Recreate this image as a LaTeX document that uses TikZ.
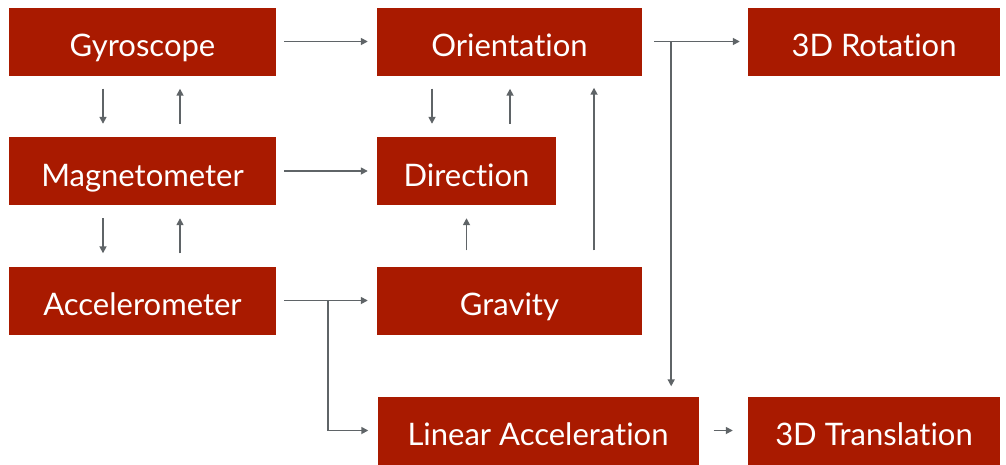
\documentclass[tikz,border=0pt]{standalone}
\usepackage{fontspec}
\setmainfont{Lato}[Ligatures=NoCommon]
\usetikzlibrary{arrows.meta}
\definecolor{boxred}{HTML}{A91A00}
\definecolor{arrgrey}{HTML}{5F6467}
\begin{document}
\begin{tikzpicture}[x=1pt,y=-1pt,
  box/.style={fill=boxred, text=white, minimum height=68pt, inner sep=0pt, text height=30pt, text depth=0pt, font=\fontsize{31}{33}\selectfont},
  arr/.style={draw=arrgrey, line width=1.6pt, -{Triangle[length=7pt,width=7pt]}}]
\useasboundingbox (0,0) rectangle (1006,464);
\node[box, minimum width=267pt] (gyro)   at (142.5,41.5) {Gyroscope};
\node[box, minimum width=265pt] (orient) at (509.5,41.5) {Orientation};
\node[box, minimum width=252pt] (rot)    at (874,41.5)   {3D Rotation};
\node[box, minimum width=267pt] (mag)    at (142.5,171)  {Magnetometer};
\node[box, minimum width=179pt] (dir)    at (466.5,171)  {Direction};
\node[box, minimum width=267pt] (acc)    at (142.5,300.5){Accelerometer};
\node[box, minimum width=265pt] (grav)   at (509.5,300.5){Gravity};
\node[box, minimum width=321pt] (lin)    at (538,430.5)  {Linear Acceleration};
\node[box, minimum width=252pt] (trans)  at (874,430.5)  {3D Translation};
% horizontal
\draw[arr, shorten <=8pt, shorten >=9pt] (gyro.east) -- (orient.west);
\draw[arr, shorten <=8pt, shorten >=9pt] (mag.east) -- (dir.west);
\draw[arr, shorten <=8pt, shorten >=9pt] (acc.east) -- (grav.west);
\coordinate (ab) at ([xshift=52pt]acc.east);
\draw[arr, shorten >=9pt] (ab) |- (lin.west);
\draw[arr, shorten <=12pt, shorten >=8pt] (orient.east) -- (rot.west);
\coordinate (ob) at ([xshift=29pt]orient.east);
\draw[arr, shorten >=10pt] (ob) -- (ob |- lin.north);
\draw[arr, shorten <=15pt, shorten >=15pt] (lin.east) -- (trans.west);
% vertical pairs
\draw[arr, shorten <=13pt, shorten >=13pt] ([xshift=-39.5pt]gyro.south) -- ([xshift=-39.5pt]mag.north);
\draw[arr, shorten <=13pt, shorten >=13pt] ([xshift=37.5pt]mag.north) -- ([xshift=37.5pt]gyro.south);
\draw[arr, shorten <=13pt, shorten >=13pt] ([xshift=-39.5pt]mag.south) -- ([xshift=-39.5pt]acc.north);
\draw[arr, shorten <=13pt, shorten >=13pt] ([xshift=37.5pt]acc.north) -- ([xshift=37.5pt]mag.south);
\draw[arr, shorten <=13pt, shorten >=13pt] ([xshift=-77.5pt]orient.south) -- ([xshift=-34.5pt]dir.north);
\draw[arr, shorten <=13pt, shorten >=13pt] ([xshift=43.5pt]dir.north) -- ([xshift=0.5pt]orient.south);
\draw[arr, shorten <=16pt, shorten >=13pt] (grav.north -| dir.south) -- (dir.south);
\draw[arr, shorten <=16pt, shorten >=12pt] ([xshift=84.5pt]grav.north) -- ([xshift=84.5pt]orient.south);
\end{tikzpicture}
\end{document}
